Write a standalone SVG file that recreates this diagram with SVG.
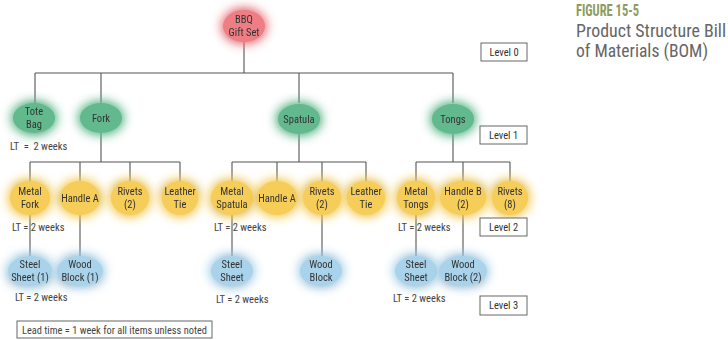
<svg xmlns="http://www.w3.org/2000/svg" width="728" height="340" viewBox="0 0 728 340">
<defs>
<style>
.t{font-family:Roboto,"Liberation Sans",sans-serif;font-stretch:85%;font-size:10.5px;fill:#333;text-anchor:middle}
.lt{font-family:Roboto,"Liberation Sans",sans-serif;font-stretch:85%;font-size:10.5px;fill:#444;white-space:pre}
.ti{font-family:Roboto,"Liberation Sans",sans-serif;font-stretch:85%}
.c{stroke:#555;stroke-width:1.1;fill:none}
.box{fill:#fff;stroke:#666;stroke-width:1}
.red{fill:#ef7d84}
.grn{fill:#62b98d}
.yel{fill:#f6cd58}
.blu{fill:#a9d3ea}
</style>
<filter id="glow" x="-70%" y="-70%" width="240%" height="240%">
<feGaussianBlur in="SourceGraphic" stdDeviation="6" result="b"/>
<feMerge><feMergeNode in="b"/><feMergeNode in="b"/><feMergeNode in="SourceGraphic"/></feMerge>
</filter>
</defs>
<rect width="728" height="340" fill="#fff"/>

<g id="title">
<text class="ti" x="576" y="16" textLength="63" lengthAdjust="spacingAndGlyphs" style="font-size:17px;font-weight:bold;fill:#8d9b5e">FIGURE 15-5</text>
<text class="ti" x="576" y="37" textLength="150" lengthAdjust="spacingAndGlyphs" style="font-size:17.5px;fill:#666">Product Structure Bill</text>
<text class="ti" x="576" y="57" textLength="132" lengthAdjust="spacingAndGlyphs" style="font-size:17.5px;fill:#666">of Materials (BOM)</text>
</g>

<g id="connectors">
<path class="c" d="M244 42V73M35 73H453M35 73V103M101 73V103M299 73V103M453 73V103"/>
<path class="c" d="M101 133V162M30 162H180M30 162V182M80 162V182M130 162V182M180 162V182"/>
<path class="c" d="M299 134V162M232 162H366M232 162V182M277 162V182M322 162V182M366 162V182"/>
<path class="c" d="M453 134V162M416 162H510M416 162V182M463 162V182M510 162V182"/>
<path class="c" d="M30 214V257M80 214V257M232 214V257M322 214V257M416 214V257M463 214V257"/>
</g>

<g id="bbq" filter="url(#glow)"><ellipse class="red" cx="244" cy="26" rx="21" ry="16"/><text class="t" x="244" y="23">BBQ</text><text class="t" x="244" y="35.5">Gift Set</text></g>

<g id="tote-bag" filter="url(#glow)"><ellipse class="grn" cx="34" cy="118" rx="21" ry="15"/><text class="t" x="34" y="115">Tote</text><text class="t" x="34" y="127.5">Bag</text></g>
<g id="fork" filter="url(#glow)"><ellipse class="grn" cx="101" cy="118" rx="21" ry="15"/><text class="t" x="101" y="121.5">Fork</text></g>
<g id="spatula" filter="url(#glow)"><ellipse class="grn" cx="299" cy="119" rx="21" ry="15"/><text class="t" x="299" y="122.5">Spatula</text></g>
<g id="tongs" filter="url(#glow)"><ellipse class="grn" cx="453" cy="119" rx="21" ry="15"/><text class="t" x="453" y="122.5">Tongs</text></g>

<g id="metal-fork" filter="url(#glow)"><ellipse class="yel" cx="30" cy="198" rx="20" ry="17"/><text class="t" x="30" y="195">Metal</text><text class="t" x="30" y="207.5">Fork</text></g>
<g id="handle-a-1" filter="url(#glow)"><ellipse class="yel" cx="80" cy="198" rx="20" ry="17"/><text class="t" x="80" y="201.5">Handle A</text></g>
<g id="rivets-2-1" filter="url(#glow)"><ellipse class="yel" cx="130" cy="198" rx="19" ry="17"/><text class="t" x="130" y="195">Rivets</text><text class="t" x="130" y="207.5">(2)</text></g>
<g id="leather-tie-1" filter="url(#glow)"><ellipse class="yel" cx="180" cy="198" rx="18" ry="17"/><text class="t" x="180" y="195">Leather</text><text class="t" x="180" y="207.5">Tie</text></g>

<g id="metal-spatula" filter="url(#glow)"><ellipse class="yel" cx="232" cy="198" rx="21" ry="17"/><text class="t" x="232" y="195">Metal</text><text class="t" x="232" y="207.5">Spatula</text></g>
<g id="handle-a-2" filter="url(#glow)"><ellipse class="yel" cx="277" cy="198" rx="20" ry="17"/><text class="t" x="277" y="201.5">Handle A</text></g>
<g id="rivets-2-2" filter="url(#glow)"><ellipse class="yel" cx="322" cy="198" rx="19" ry="17"/><text class="t" x="322" y="195">Rivets</text><text class="t" x="322" y="207.5">(2)</text></g>
<g id="leather-tie-2" filter="url(#glow)"><ellipse class="yel" cx="366" cy="198" rx="19" ry="17"/><text class="t" x="366" y="195">Leather</text><text class="t" x="366" y="207.5">Tie</text></g>

<g id="metal-tongs" filter="url(#glow)"><ellipse class="yel" cx="416" cy="198" rx="19" ry="17"/><text class="t" x="416" y="195">Metal</text><text class="t" x="416" y="207.5">Tongs</text></g>
<g id="handle-b" filter="url(#glow)"><ellipse class="yel" cx="463" cy="198" rx="23" ry="17"/><text class="t" x="463" y="195">Handle B</text><text class="t" x="463" y="207.5">(2)</text></g>
<g id="rivets-8" filter="url(#glow)"><ellipse class="yel" cx="510" cy="198" rx="18" ry="17"/><text class="t" x="510" y="195">Rivets</text><text class="t" x="510" y="207.5">(8)</text></g>

<g id="steel-sheet-1" filter="url(#glow)"><ellipse class="blu" cx="30" cy="271" rx="22" ry="15"/><text class="t" x="30" y="268">Steel</text><text class="t" x="30" y="280.5">Sheet (1)</text></g>
<g id="wood-block-1" filter="url(#glow)"><ellipse class="blu" cx="80" cy="271" rx="23" ry="15"/><text class="t" x="80" y="268">Wood</text><text class="t" x="80" y="280.5">Block (1)</text></g>
<g id="steel-sheet-2" filter="url(#glow)"><ellipse class="blu" cx="232" cy="271" rx="21" ry="15"/><text class="t" x="232" y="268">Steel</text><text class="t" x="232" y="280.5">Sheet</text></g>
<g id="wood-block-2" filter="url(#glow)"><ellipse class="blu" cx="321" cy="271" rx="21" ry="15"/><text class="t" x="321" y="268">Wood</text><text class="t" x="321" y="280.5">Block</text></g>
<g id="steel-sheet-3" filter="url(#glow)"><ellipse class="blu" cx="416" cy="271" rx="21" ry="15"/><text class="t" x="416" y="268">Steel</text><text class="t" x="416" y="280.5">Sheet</text></g>
<g id="wood-block-3" filter="url(#glow)"><ellipse class="blu" cx="463" cy="271" rx="24" ry="15"/><text class="t" x="463" y="268">Wood</text><text class="t" x="463" y="280.5">Block (2)</text></g>

<g id="lead-times">
<text class="lt" x="10" y="150">LT  =  2 weeks</text>
<text class="lt" x="12" y="231">LT = 2 weeks</text>
<text class="lt" x="214" y="231">LT = 2 weeks</text>
<text class="lt" x="398" y="231">LT = 2 weeks</text>
<text class="lt" x="15" y="301">LT = 2 weeks</text>
<text class="lt" x="216" y="303">LT = 2 weeks</text>
<text class="lt" x="393" y="302">LT = 2 weeks</text>
</g>

<g id="levels">
<rect class="box" x="481" y="43" width="46" height="18"/><text class="t" x="504" y="55.5">Level 0</text>
<rect class="box" x="480" y="126" width="47" height="18"/><text class="t" x="503.5" y="138.5">Level 1</text>
<rect class="box" x="480" y="218" width="47" height="18"/><text class="t" x="503.5" y="230.5">Level 2</text>
<rect class="box" x="480" y="296" width="47" height="19"/><text class="t" x="503.5" y="309">Level 3</text>
</g>

<g id="note">
<rect class="box" x="17" y="321" width="195" height="17"/>
<text class="lt" x="22" y="333.5" textLength="185" lengthAdjust="spacingAndGlyphs">Lead time = 1 week for all items unless noted</text>
</g>
</svg>
